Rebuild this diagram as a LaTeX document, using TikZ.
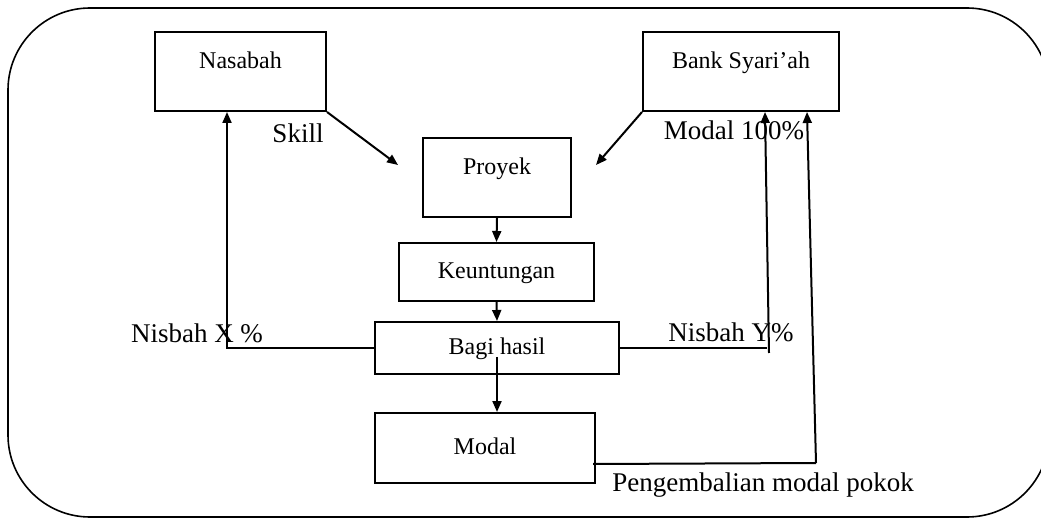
\documentclass[tikz,border=0pt]{standalone}
\usepackage{fontspec}
\setmainfont{Liberation Serif}
\usetikzlibrary{arrows.meta}
\begin{document}
\begin{tikzpicture}[x=1pt,y=-1pt,
  box/.style={draw,line width=2pt,rectangle,inner sep=0pt,
    font=\fontsize{24}{28}\selectfont,text height=17pt,text depth=4pt},
  topbox/.style={box,text depth=22pt},
  lbl/.style={font=\fontsize{27}{32}\selectfont,inner sep=0pt},
  con/.style={line width=2pt},
  arr/.style={con,-{Triangle[length=11pt,width=9pt]}}]
\useasboundingbox (0,0) rectangle (1041,518);
\begin{scope}
\clip (0,0) rectangle (1041,518);
\draw[line width=1.6pt,rounded corners=82pt] (8,8) rectangle (1049,517);
\end{scope}
% boxes
\node[topbox,minimum width=171pt,minimum height=79pt] (nas) at (240.5,71.5) {Nasabah};
\node[topbox,minimum width=196pt,minimum height=79pt] (bank) at (741,71.5) {Bank Syari’ah};
\node[topbox,minimum width=148pt,minimum height=79pt] (proy) at (497,177.5) {Proyek};
\node[box,minimum width=195pt,minimum height=58pt] (keun) at (496.5,272) {Keuntungan};
\node[box,minimum width=244pt,minimum height=52pt] (bagi) at (497,348) {Bagi hasil};
\node[box,minimum width=220pt,minimum height=70pt] (modal) at (485,448) {Modal};
% free ends
\coordinate (pL) at (398,165);
\coordinate (pR) at (596,165);
\coordinate (bs) at (497,357);
\coordinate (ny1) at (767,348);
\coordinate (ny2) at (769,353);
\coordinate (ms) at (593,464);
\coordinate (mc) at (816,463);
% connectors
\draw[arr] (nas.south east) -- (pL);
\draw[arr] (bank.south west) -- (pR);
\draw[arr] (proy.south) -- (keun.north);
\draw[arr] (keun.south) -- (bagi.north);
\draw[arr] (bs) -- (bs |- modal.north);
\draw[arr] (bagi.west) -| ([xshift=-13.5pt]nas.south);
\draw[con] (bagi.east) -- (ny1);
\draw[arr] (ny2) -- ([xshift=24pt]bank.south);
\draw[con] (ms) -- (mc);
\draw[arr] (mc) -- ([xshift=66pt]bank.south);
% labels
\node[lbl] (lskill) at (298,133) {Skill};
\node[lbl] (lmodal) at (734,130) {Modal 100\%};
\node[lbl] (lnx) at (197,333) {Nisbah X \%};
\node[lbl] (lny) at (731,332) {Nisbah Y\%};
\node[lbl] (lpeng) at (763,485) {Pengembalian modal pokok};
\end{tikzpicture}
\end{document}
